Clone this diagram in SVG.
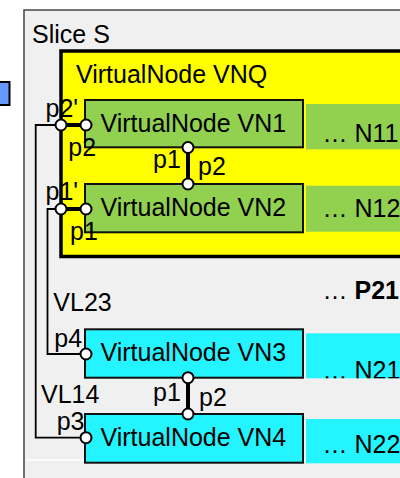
<svg xmlns="http://www.w3.org/2000/svg" width="400" height="478" viewBox="0 0 400 478">
<style>
text{font-family:"Liberation Sans",Arial,sans-serif;font-size:25px;fill:#000}
.vn{stroke:#111;stroke-width:2}
.green{fill:#92d050}
.cyan{fill:#24f4ff}
.port{fill:#fff;stroke:#000;stroke-width:2}
.thin{fill:none;stroke:#000;stroke-width:1.8}
.thick{fill:none;stroke:#000;stroke-width:4}
</style>
<defs>
<clipPath id="clipN21"><rect x="306" y="333.3" width="100" height="45"/></clipPath>
</defs>
<rect x="0" y="0" width="400" height="478" fill="#fff"/>
<g id="blue-node">
<rect x="-2" y="82" width="11.5" height="23" fill="#6699ff" stroke="#000" stroke-width="2"/>
</g>
<g id="slice-S">
<rect x="24" y="10" width="400" height="490" fill="#f0f0f0" stroke="#444" stroke-width="1.5"/>
<line x1="25" y1="460" x2="400" y2="460" stroke="#fff" stroke-width="1.5"/>
<text x="32" y="42.5">Slice S</text>
</g>
<g id="VNQ">
<rect x="61" y="51" width="360" height="205.5" fill="#ffff00" stroke="#000" stroke-width="3.5"/>
<text x="76" y="83">VirtualNode VNQ</text>
</g>
<g id="N11">
<rect class="green" x="306" y="104" width="100" height="45.3"/>
<text x="322.5" y="141.7">… N11</text>
</g>
<g id="N12">
<rect class="green" x="306" y="185.7" width="100" height="46"/>
<text x="322.5" y="216.7">… N12</text>
</g>
<g id="P21">
<text x="322.5" y="298.5">… <tspan font-weight="bold">P21</tspan></text>
</g>
<g id="N21">
<rect class="cyan" x="306" y="333.3" width="100" height="45"/>
<text x="322.5" y="378.8" clip-path="url(#clipN21)">… N21</text>
</g>
<g id="N22">
<rect class="cyan" x="306" y="419" width="100" height="44.3"/>
<text x="322.5" y="453.3">… N22</text>
</g>
<g id="VN1">
<rect class="vn green" x="85" y="100" width="218" height="47.3"/>
<text x="100.5" y="131.5">VirtualNode VN1</text>
</g>
<g id="VN2">
<rect class="vn green" x="85" y="184" width="218" height="48.3"/>
<text x="100.5" y="216.3">VirtualNode VN2</text>
</g>
<g id="VN3">
<rect class="vn cyan" x="85" y="329.3" width="218" height="48.4"/>
<text x="100.5" y="361">VirtualNode VN3</text>
</g>
<g id="VN4">
<rect class="vn cyan" x="85" y="414" width="218" height="48.7"/>
<text x="100.5" y="445.5">VirtualNode VN4</text>
</g>
<g id="connectors">
<path class="thin" d="M61,125 H35.7 V437.7 H86"/>
<path class="thin" d="M61,209 H47.5 V354 H86"/>
<path class="thick" d="M61,125 H86"/>
<path class="thick" d="M61,209 H86"/>
<path class="thick" d="M188,147.5 V184"/>
<path class="thick" d="M188,377.7 V414"/>
</g>
<g id="ports">
<circle class="port" cx="61" cy="125" r="5.5"/>
<circle class="port" cx="86" cy="125" r="5.5"/>
<circle class="port" cx="61" cy="209" r="5.5"/>
<circle class="port" cx="86" cy="209" r="5.5"/>
<circle class="port" cx="188" cy="147.5" r="5.5"/>
<circle class="port" cx="188" cy="184" r="5.5"/>
<circle class="port" cx="188" cy="377.7" r="5.5"/>
<circle class="port" cx="188" cy="414" r="5.5"/>
<circle class="port" cx="86" cy="354" r="5.5"/>
<circle class="port" cx="86" cy="437.7" r="5.5"/>
</g>
<g id="labels">
<text x="45.5" y="117">p2'</text>
<text x="68.3" y="155.5">p2</text>
<text x="45.5" y="200">p1'</text>
<text x="70" y="240">p1</text>
<text x="153" y="168.3">p1</text>
<text x="198" y="175">p2</text>
<text x="53.3" y="310.7">VL23</text>
<text x="54.3" y="346.7">p4</text>
<text x="41" y="403.3">VL14</text>
<text x="56.7" y="430">p3</text>
<text x="153" y="401">p1</text>
<text x="199" y="406">p2</text>
</g>
</svg>
